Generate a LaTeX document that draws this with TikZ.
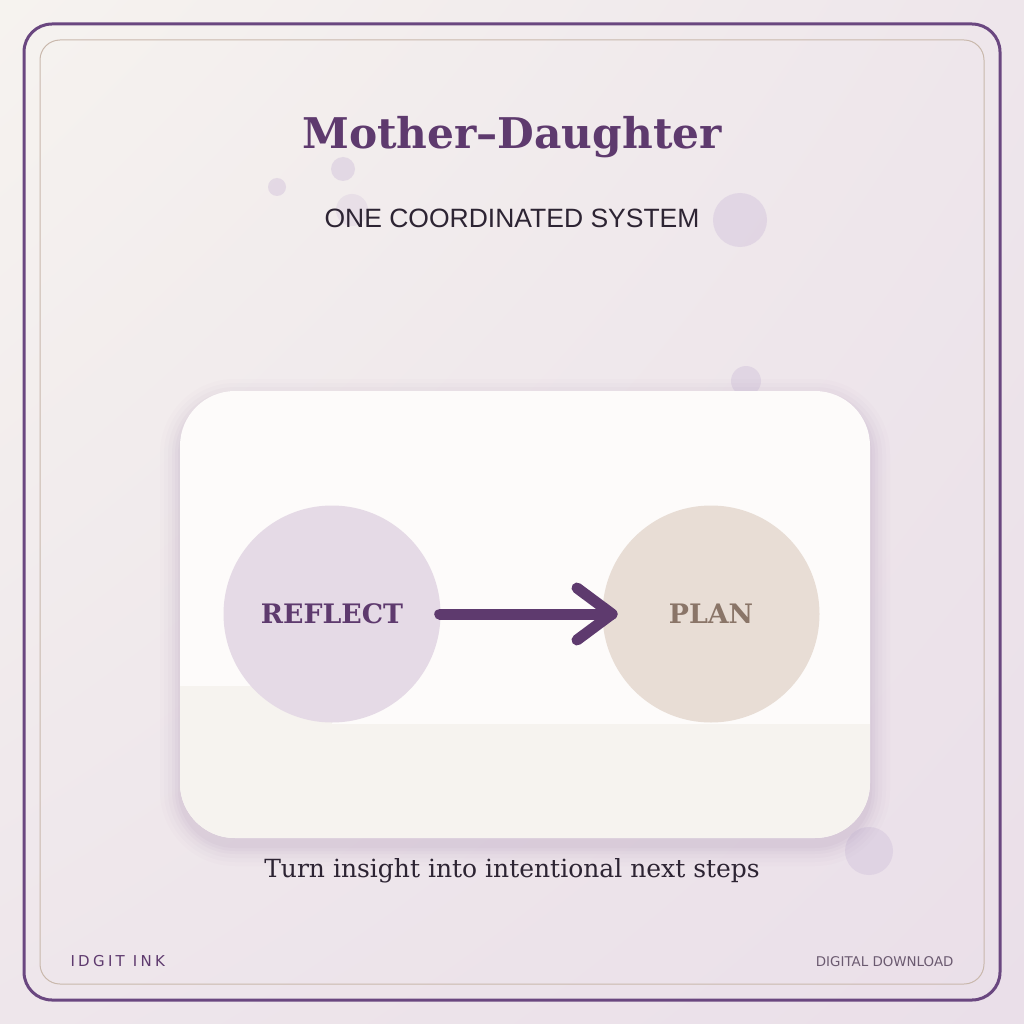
\documentclass[tikz,border=0pt]{standalone}
\usepackage{fontspec}
\usetikzlibrary{shadings}
\setmainfont{DejaVu Serif}
\newfontfamily\subfont{Liberation Sans}
\newfontfamily\footfont{DejaVu Sans}
\newfontfamily\spacedfont[LetterSpace=22]{DejaVu Sans}
\definecolor{plum}{HTML}{5E3A6E}
\definecolor{frame}{HTML}{6A4780}
\definecolor{ink}{HTML}{2D2433}
\definecolor{tan}{HTML}{C9B8AC}
\definecolor{bgA}{HTML}{F6F3EF}
\definecolor{bgB}{HTML}{EEE6EB}
\definecolor{bgC}{HTML}{EADFE9}
\definecolor{card}{HTML}{FDFBFA}
\definecolor{band}{HTML}{F6F3EF}
\definecolor{lilac}{HTML}{E5DAE6}
\definecolor{sand}{HTML}{E8DDD5}
\definecolor{plantext}{HTML}{8A7568}
\definecolor{dot}{HTML}{D6C8DE}
\definecolor{foot}{HTML}{6B5A70}
\definecolor{shadow}{HTML}{7A5A90}
\tikzset{
  deco/.style={fill=dot, opacity=0.55, draw=none},
  bubble/.style={circle, minimum size=217pt, inner sep=0pt, draw=none, font=\bfseries\fontsize{26.8}{30}\selectfont},
}
\begin{document}
\begin{tikzpicture}[x=1pt,y=-1pt]
\useasboundingbox (0,0) rectangle (1024,1024);
% background
\shade[upper left=bgA, upper right=bgB, lower left=bgB, lower right=bgC] (0,0) rectangle (1024,1024);
% frames
\draw[frame, line width=3pt, rounded corners=28pt] (24,24) rectangle (1000,1000);
\draw[tan, line width=1pt, rounded corners=20pt] (40,40) rectangle (984,984);
% decorative dots
\fill[deco] (343,169) circle (12);
\fill[deco] (277,187) circle (9);
\fill[deco, opacity=0.35] (352,210) circle (16);
\fill[deco] (740,220) circle (27);
\fill[deco] (746,381) circle (15);
\fill[deco] (869,851) circle (24);
% titles
\node[font=\bfseries\fontsize{42.3}{48}\selectfont, text=plum] (title) at (512,137) {Mother–Daughter};
\node[font=\subfont\fontsize{26.5}{30}\selectfont, text=ink] (sub) at (512,218) {ONE COORDINATED SYSTEM};
% card shadow
\foreach \i/\r/\o in {20/75/0.015,16/71/0.02,12/67/0.025,8/63/0.03,5/60/0.035,2/57/0.04}{
  \fill[shadow, opacity=\o, rounded corners=\r pt] (180-\i,399-\i) rectangle (870+\i,846+\i);
}
% card
\fill[card, rounded corners=55pt] (180,391) rectangle (870,838);
\begin{scope}
  \clip[rounded corners=55pt] (180,391) rectangle (870,838);
  \fill[band] (180,686) rectangle (332,838);
  \fill[band] (180,724) rectangle (870,838);
\end{scope}
% circles
\node[bubble, fill=lilac, text=plum] (reflect) at (332,614) {REFLECT};
\node[bubble, fill=sand, text=plantext] (plan) at (711,614) {PLAN};
% arrow
\coordinate (tip) at (612,614);
\draw[plum, line width=11pt, line cap=round] (reflect.east) ++(-1,0) -- (tip);
\draw[plum, line width=11pt, line cap=round, line join=round] (577,588) -- (tip) -- (577,640);
% caption
\node[font=\fontsize{25}{28}\selectfont, text=ink] (cap) at (512,871) {Turn insight into intentional next steps};
% footer
\node[font=\spacedfont\fontsize{15}{18}\selectfont, text=plum, anchor=west] (brand) at (67,961) {IDGIT INK};
\node[font=\footfont\fontsize{13.4}{16}\selectfont, text=foot, anchor=east] (dl) at (957,962) {DIGITAL DOWNLOAD};
\end{tikzpicture}
\end{document}
